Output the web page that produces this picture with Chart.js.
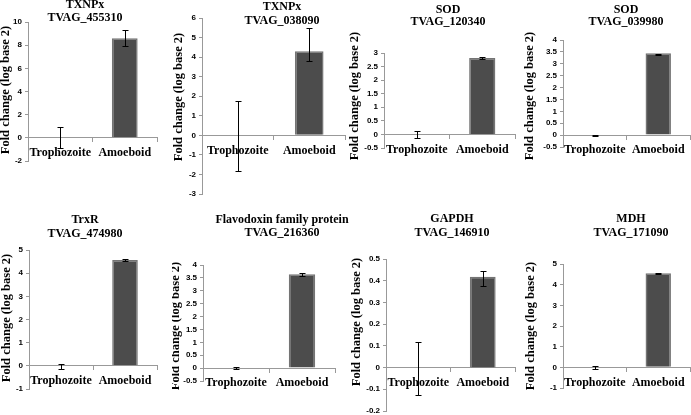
<!DOCTYPE html>
<html>
<head>
<meta charset="utf-8">
<script src="https://cdn.jsdelivr.net/npm/chart.js@4.4.1/dist/chart.umd.min.js"></script>
<style>
  html, body { margin: 0; padding: 0; background: #fff; overflow: hidden; }
  #wrap { position: relative; width: 691px; height: 415px; overflow: hidden; }
  #wrap canvas { position: absolute; }
</style>
</head>
<body>
<div id="wrap"></div>
<script>
// data, one entry per panel (left to right, top row first)
const categories = ['Trophozoite', 'Amoeboid'];
const geneNames = ['TXNPx', 'TXNPx', 'SOD', 'SOD', 'TrxR', 'Flavodoxin family protein', 'GAPDH', 'MDH'];
const geneIds = ['TVAG_455310', 'TVAG_038090', 'TVAG_120340', 'TVAG_039980', 'TVAG_474980', 'TVAG_216360', 'TVAG_146910', 'TVAG_171090'];
const trophozoiteValues = [0, 0, 0, 0, 0, 0, 0, 0];
const amoeboidValues = [8.6, 4.3, 2.82, 3.44, 4.57, 3.64, 0.418, 4.55];
const trophozoiteErrLow = [-0.87, -1.8, -0.13, -0.03, -0.12, -0.04, -0.125, -0.1];
const trophozoiteErrHigh = [0.9, 1.75, 0.12, 0.02, 0.1, 0.03, 0.12, 0.08];
const amoeboidErrLow = [7.95, 3.8, 2.78, 3.38, 4.53, 3.59, 0.375, 4.53];
const amoeboidErrHigh = [9.3, 5.5, 2.85, 3.43, 4.6, 3.7, 0.445, 4.57];
const yMin = [-2, -3, -0.5, -0.5, -1, -0.5, -0.2, -1];
const yMax = [10, 6, 3, 4, 5, 4, 0.5, 5];
const yStep = [2, 1, 0.5, 0.5, 1, 0.5, 0.1, 1];

// layout in page pixels
const cells = [[0, 0], [172, 0], [345, 0], [516, 0], [0, 205], [172, 205], [345, 205], [516, 205]];
const plotBoxes = [ // left, top, right, bottom
  [28, 22, 157, 161],
  [202, 18, 345, 194],
  [384, 53, 515, 148],
  [563, 40, 690, 147],
  [29, 250, 157, 389],
  [203, 265, 335, 381],
  [386, 259, 515, 411],
  [563, 264, 690, 388]
];
const titlePos = [[85, 5, 18], [282, 7, 21], [448, 10, 22], [626, 10, 22], [85, 220, 234], [282, 220, 233], [452, 219, 233], [631, 219, 233]];
const yLabelPos = [[6, 90], [179, 97], [355, 96], [530, 96], [7, 318], [176, 326], [357, 322], [531, 326]];
const CW = 200, CH = 215, YW = 24;

const serif = '"Liberation Serif", "Times New Roman", serif';

const errorBarPlugin = {
  id: 'errorBars',
  afterDatasetsDraw(chart, args, opts) {
    const ctx = chart.ctx;
    const y = chart.scales.y;
    const meta = chart.getDatasetMeta(0);
    ctx.save();
    ctx.strokeStyle = '#000';
    ctx.lineWidth = 1;
    meta.data.forEach((bar, i) => {
      const x = Math.round(bar.x) + 0.5;
      const lo = Math.round(y.getPixelForValue(opts.low[i])) + 0.5;
      const hi = Math.round(y.getPixelForValue(opts.high[i])) + 0.5;
      ctx.beginPath();
      ctx.moveTo(x, lo); ctx.lineTo(x, hi);
      ctx.moveTo(x - 3, lo); ctx.lineTo(x + 3, lo);
      ctx.moveTo(x - 3, hi); ctx.lineTo(x + 3, hi);
      ctx.stroke();
    });
    ctx.restore();
  }
};

const panelTextPlugin = {
  id: 'panelText',
  afterDraw(chart, args, opts) {
    const ctx = chart.ctx;
    ctx.save();
    ctx.fillStyle = '#000';
    ctx.textAlign = 'center';
    ctx.textBaseline = 'middle';
    ctx.font = 'bold 12px ' + serif;
    ctx.fillText(opts.name, opts.tx, opts.ty1);
    ctx.fillText(opts.id, opts.tx, opts.ty2);
    ctx.translate(opts.lx, opts.ly);
    ctx.rotate(-Math.PI / 2);
    ctx.font = 'bold 12.5px ' + serif;
    ctx.fillText('Fold change (log base 2)', 0, 0);
    ctx.restore();
  }
};

const wrap = document.getElementById('wrap');

geneIds.forEach((id, i) => {
  const [cx, cy] = cells[i];
  const [pl, pt, pr, pb] = plotBoxes[i];
  const canvas = document.createElement('canvas');
  canvas.width = CW;
  canvas.height = CH;
  canvas.style.left = cx + 'px';
  canvas.style.top = cy + 'px';
  canvas.style.width = CW + 'px';
  canvas.style.height = CH + 'px';
  wrap.appendChild(canvas);

  new Chart(canvas, {
    type: 'bar',
    data: {
      labels: categories,
      datasets: [{
        data: [trophozoiteValues[i], amoeboidValues[i]],
        backgroundColor: '#4c4c4c',
        borderColor: '#747474',
        borderWidth: 1.5,
        barPercentage: 0.4,
        categoryPercentage: 1
      }]
    },
    options: {
      responsive: false,
      animation: false,
      layout: {
        padding: { left: pl - cx - YW, top: pt - cy, right: cx + CW - pr, bottom: cy + CH - pb }
      },
      plugins: {
        legend: { display: false },
        tooltip: { enabled: false },
        errorBars: {
          low: [trophozoiteErrLow[i], amoeboidErrLow[i]],
          high: [trophozoiteErrHigh[i], amoeboidErrHigh[i]]
        },
        panelText: {
          name: geneNames[i], id: id,
          tx: titlePos[i][0] - cx, ty1: titlePos[i][1] - cy, ty2: titlePos[i][2] - cy,
          lx: yLabelPos[i][0] - cx, ly: yLabelPos[i][1] - cy
        }
      },
      scales: {
        x: {
          position: { y: 0 },
          grid: { drawOnChartArea: false, tickLength: 4, color: '#999', offset: true },
          border: { color: '#999' },
          ticks: {
            color: '#000', padding: 4, maxRotation: 0, autoSkip: false,
            font: { family: serif, weight: 'bold', size: 12 }
          },
          afterFit: s => { s.height = 0; }
        },
        y: {
          min: yMin[i],
          max: yMax[i],
          grid: { drawOnChartArea: false, tickLength: 3, color: '#999' },
          border: { color: '#999' },
          ticks: {
            stepSize: yStep[i], color: '#000', padding: 3, autoSkip: false,
            callback: v => String(Number(v.toFixed(2))),
            font: { family: '"Liberation Sans", Arial, sans-serif', weight: 'bold', size: 8 }
          },
          afterFit: s => { s.width = YW; }
        }
      }
    },
    plugins: [errorBarPlugin, panelTextPlugin]
  });
});
</script>
</body>
</html>
